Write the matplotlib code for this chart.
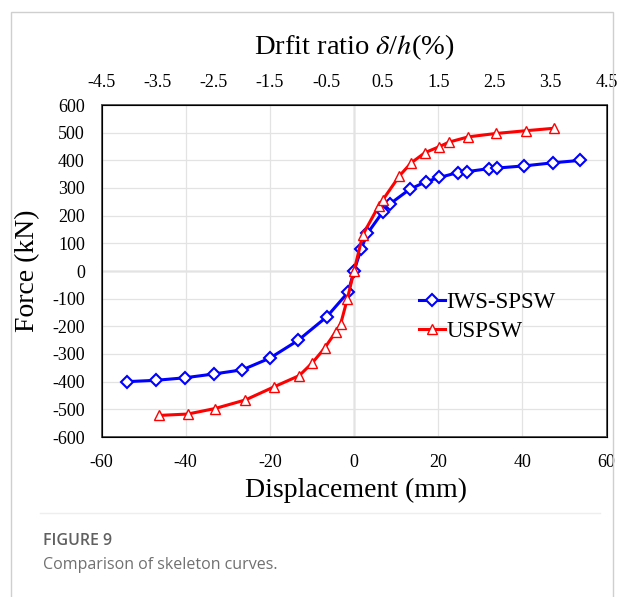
import matplotlib.pyplot as plt
from matplotlib.patches import Rectangle
from matplotlib.lines import Line2D

# -----------------------
# DATA
# -----------------------
iws_disp = [-54.0, -47.0, -40.2, -33.2, -26.5, -20.0, -13.3, -6.5, -1.4, 0.0,
            1.7, 3.2, 6.9, 8.5, 13.2, 17.1, 20.3, 24.7, 26.8, 32.0, 33.9, 40.5, 47.2, 53.8]
iws_force = [-400, -395, -386, -372, -357, -315, -251, -166, -77, 0,
             80, 136, 215, 242, 295, 323, 338, 356, 359, 370, 372, 380, 391, 400]

usp_disp = [-46.3, -39.5, -33.0, -25.8, -18.9, -13.0, -9.9, -7.0, -4.3, -3.2, -1.6, 0.0,
            2.1, 5.9, 6.8, 10.8, 13.6, 16.9, 20.2, 22.6, 27.2, 33.7, 40.8, 47.6]
usp_force = [-522, -517, -497, -466, -418, -378, -332, -279, -219, -193, -102, 0,
             131, 236, 256, 344, 391, 428, 449, 466, 485, 497, 507, 516]

disp_ticks = [-60, -40, -20, 0, 20, 40, 60]
force_ticks = list(range(-600, 601, 100))
drift_ticks = [-4.5, -3.5, -2.5, -1.5, -0.5, 0.5, 1.5, 2.5, 3.5, 4.5]

plt.rcParams["axes.unicode_minus"] = False

# -----------------------
# FIGURE
# -----------------------
W, H = 624, 597
fig = plt.figure(figsize=(W / 100, H / 100), dpi=100)
fig.patch.set_facecolor("white")

# card border + separator line
fig.patches.append(Rectangle((11 / W, -0.01), 602 / W, 1 - 12 / H + 0.01,
                             transform=fig.transFigure, fill=False,
                             edgecolor="#cfcfcf", linewidth=1.0))
fig.lines.append(Line2D([40 / W, 600 / W], [1 - 513 / H, 1 - 513 / H],
                        transform=fig.transFigure, color="#eeeeee", linewidth=1.0))

serif = "Liberation Serif"
left, right, top, bottom = 101.5, 606.5, 105, 437
ax = fig.add_axes([left / W, 1 - bottom / H, (right - left) / W, (bottom - top) / H])

ax.plot(iws_disp, iws_force, color="#0000ff", lw=2.2, marker="D", ms=6,
        mfc="white", mec="#0000ff", mew=1.5, label="IWS-SPSW", zorder=3)
ax.plot(usp_disp, usp_force, color="#ff0000", lw=2.2, marker="^", ms=7,
        mfc="white", mec="#ff0000", mew=1.0, label="USPSW", zorder=4)

ax.set_xlim(-60, 60)
ax.set_ylim(-600, 600)
ax.set_xticks(disp_ticks)
ax.set_yticks(force_ticks)
ax.tick_params(length=0, labelsize=13, pad=12)
for lab in ax.get_xticklabels() + ax.get_yticklabels():
    lab.set_fontfamily(serif)

ax.grid(True, color="#e3e3e3", lw=0.9, zorder=0)
ax.axvline(0, color="#b0b0b0", lw=1.0, zorder=1)
ax.axhline(0, color="#b0b0b0", lw=1.0, zorder=1)
for s in ax.spines.values():
    s.set_color("#595959")
    s.set_linewidth(1.4)

# top drift-ratio axis
ax2 = ax.twiny()
ax2.set_xlim(-4.5, 4.5)
ax2.set_xticks(drift_ticks)
ax2.set_xticklabels([f"{t:g}" for t in drift_ticks], fontfamily=serif)
ax2.tick_params(length=0, labelsize=13, pad=10)

leg = ax.legend(loc="upper left", bbox_to_anchor=(0.61, 0.465), frameon=False,
                prop={"family": serif, "size": 16.5}, handlelength=1.15,
                handletextpad=0.05, labelspacing=0.35, borderaxespad=0)

fig.text(354 / W, 1 - 47 / H, r"Drfit ratio $\delta$/$h$(%)", ha="center", va="center",
         fontsize=20.5, fontfamily=serif, math_fontfamily="stix")
fig.text(356 / W, 1 - 490 / H, "Displacement (mm)", ha="center", va="center",
         fontsize=20, fontfamily=serif)
fig.text(28 / W, 1 - 271 / H, "Force (kN)", ha="center", va="center", rotation=90,
         fontsize=20, fontfamily=serif)

# caption
fig.text(43 / W, 1 - 541 / H, "FIGURE 9", ha="left", va="center", fontsize=11.5,
         fontfamily="Open Sans", fontweight="semibold", color="#606060")
fig.text(43 / W, 1 - 565 / H, "Comparison of skeleton curves.", ha="left", va="center",
         fontsize=11.5, fontfamily="Open Sans", color="#707070")

fig.savefig("out.png", dpi=100)
